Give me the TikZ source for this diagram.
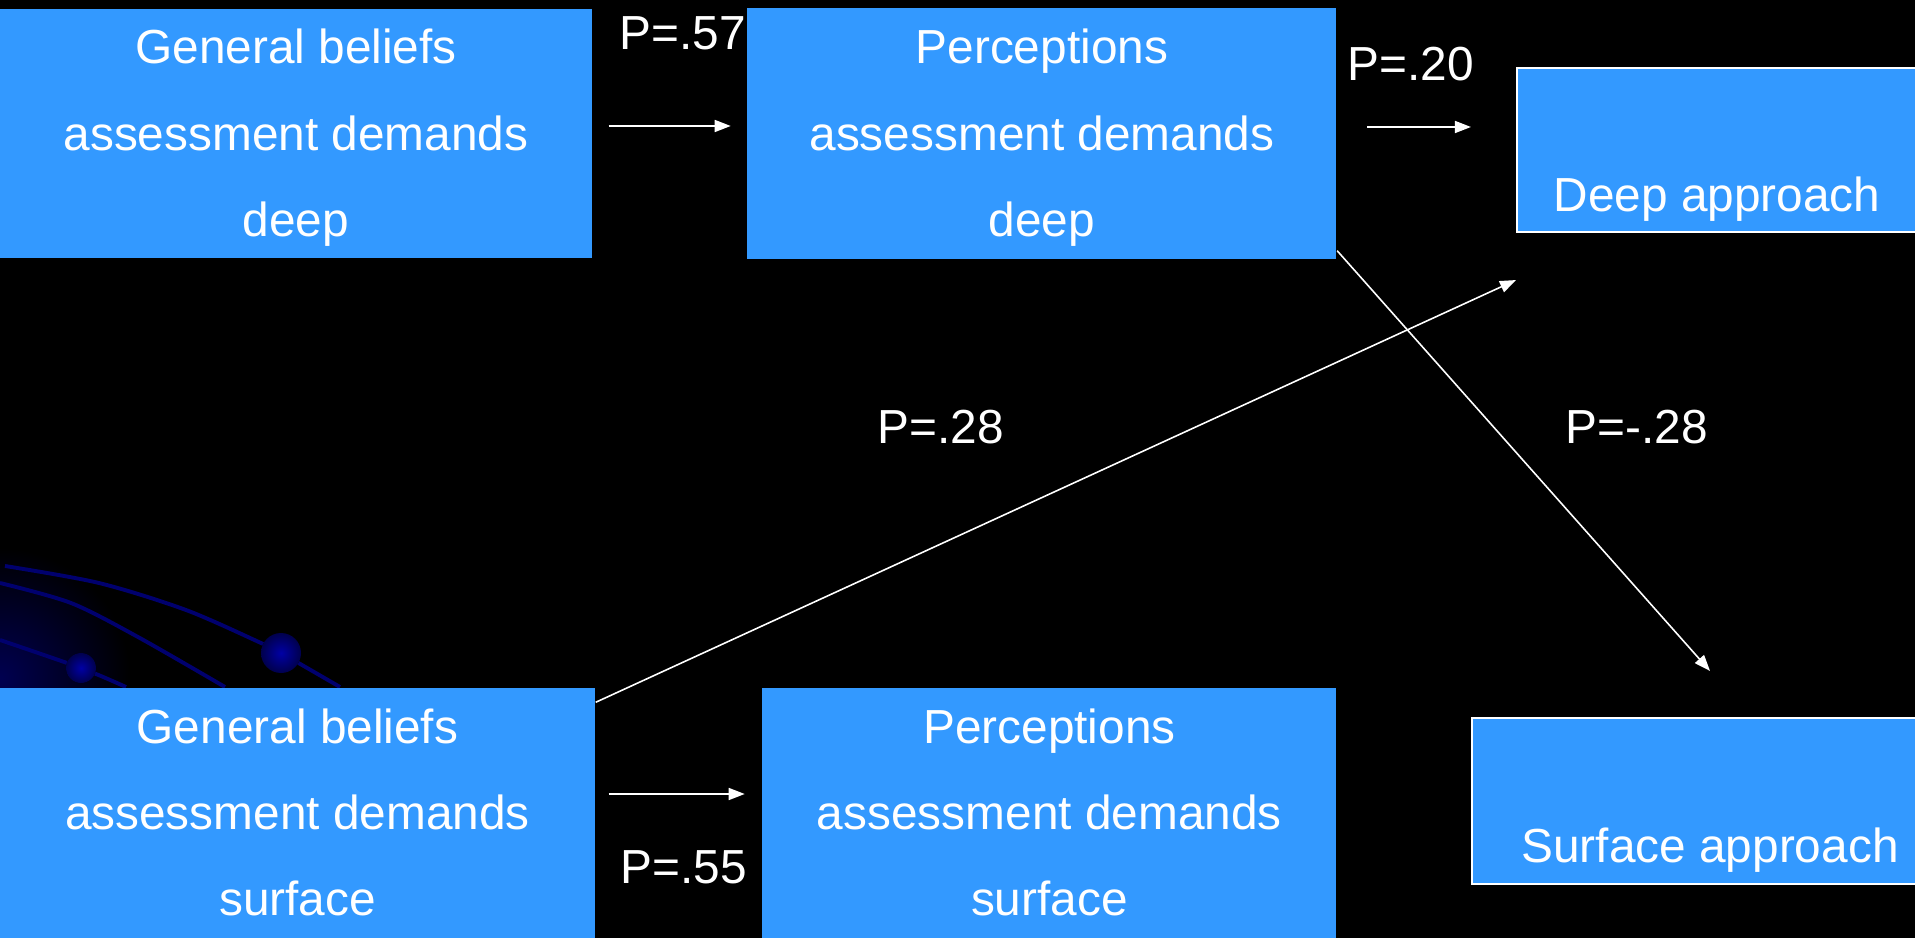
\documentclass[tikz,border=0pt]{standalone}
\usepackage{fontspec}
\setmainfont{Liberation Sans}
\usetikzlibrary{arrows.meta,positioning}

\definecolor{boxblue}{RGB}{51,153,255}
\definecolor{navyline}{RGB}{0,0,110}
\definecolor{navyball}{RGB}{0,0,165}
\definecolor{navyglow}{RGB}{0,0,80}

\begin{document}
\begin{tikzpicture}[font=\fontsize{13.6}{24.5}\selectfont, text=white,
    box/.style={fill=boxblue, inner sep=0pt, align=center, text height=63pt, text depth=4.6pt},
    result/.style={fill=boxblue, inner sep=0pt, draw=white, line width=0.6pt, text height=38.6pt, text depth=3.4pt},
    link/.style={draw=white, line width=0.45pt, -{Triangle[length=1.6mm,width=1.2mm]}},
    coef/.style={inner sep=0pt},
    swoosh/.style={draw=navyline, line width=1.1pt},
    dot/.style={inner color=navyball, outer color=navyline!70!black}]

    % page
    \useasboundingbox (0,0) rectangle (19.15,9.38);
    \clip (0,0) rectangle (19.15,9.38);
    \fill[black] (0,0) rectangle (19.15,9.38);

    % template swooshes, bottom left
    \fill[inner color=navyglow, outer color=black] (0,2.6) circle (1.3);
    \draw[swoosh] plot[smooth] coordinates {(0.05,3.72) (0.99,3.55) (1.86,3.28) (2.61,2.95) (2.81,2.85) (3.40,2.51)};
    \draw[swoosh] plot[smooth] coordinates {(0,3.55) (0.71,3.35) (1.38,3.01) (2.25,2.51)};
    \draw[swoosh] plot[smooth] coordinates {(0,2.98) (0.81,2.70) (1.26,2.51)};
    \fill[dot] (2.81,2.85) circle (0.2);
    \fill[dot] (0.81,2.70) circle (0.15);

    % beliefs and perceptions
    \node[box, minimum width=5.92cm, minimum height=2.49cm] (gbdeep) at (2.96,8.045)
        {General beliefs\\assessment demands\\deep};
    \node[box, minimum width=5.89cm, minimum height=2.51cm, right=1.54cm of gbdeep] (pdeep)
        {Perceptions\\assessment demands\\deep};
    \node[box, minimum width=5.95cm, minimum height=2.5cm] (gbsurf) at (2.975,1.25)
        {General beliefs\\assessment demands\\surface};
    \node[box, minimum width=5.74cm, minimum height=2.5cm, right=1.66cm of gbsurf] (psurf)
        {Perceptions\\assessment demands\\surface};

    % approaches
    \node[result, minimum width=4.0cm, minimum height=1.64cm] (deepapp) at (17.17,7.88)
        {Deep approach};
    \node[result, minimum width=4.76cm, minimum height=1.66cm] (surfapp) at (17.10,1.37)
        {Surface approach};

    % paths
    \draw[link, shorten <=1.6mm, shorten >=1.6mm] ([yshift=0.75mm]gbdeep.east) -- ([yshift=0.75mm]gbdeep.east -| pdeep.west);
    \draw[link, shorten <=3mm, shorten >=4.5mm] ([yshift=0.65mm]pdeep.east) -- ([yshift=0.65mm]pdeep.east -| deepapp.west);
    \draw[link, shorten <=1.3mm, shorten >=1.7mm] ([yshift=1.9mm]gbsurf.east) -- ([yshift=1.9mm]gbsurf.east -| psurf.west);
    \draw[link] ([yshift=-1.5mm]gbsurf.north east) -- ([yshift=-4.7mm]deepapp.south west);
    \draw[link] ([yshift=0.9mm]pdeep.south east) -- ([yshift=4.6mm]surfapp.north);

    % coefficients
    \node[coef] (p57) at (6.83,9.05) {P=.57};
    \node[coef] (p20) at (14.11,8.74) {P=.20};
    \node[coef] (p28) at (9.41,5.11) {P=.28};
    \node[coef] (pm28) at (16.37,5.11) {P=-.28};
    \node[coef] (p55) at (6.84,0.71) {P=.55};

\end{tikzpicture}
\end{document}
